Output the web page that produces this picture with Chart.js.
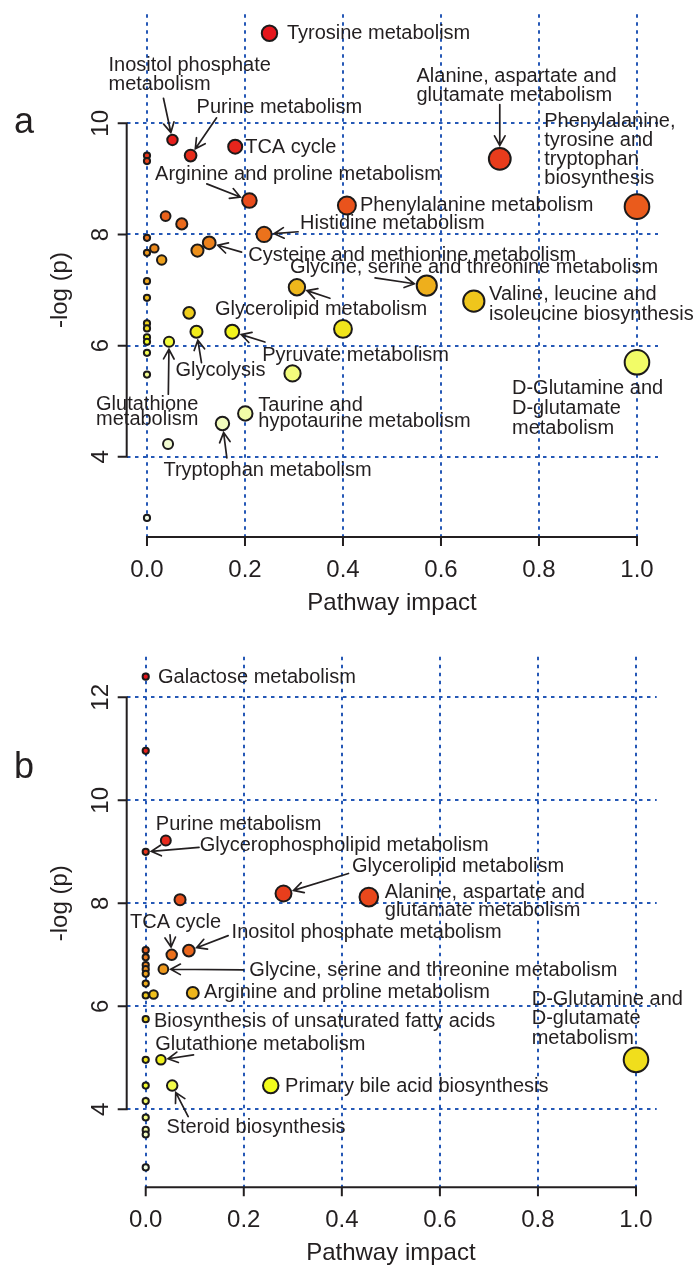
<!DOCTYPE html>
<html><head><meta charset="utf-8">
<script src="https://cdn.jsdelivr.net/npm/chart.js@4.4.1/dist/chart.umd.min.js"></script>
<style>
html,body{margin:0;padding:0;background:#fff;}
#wrap{position:relative;width:700px;height:1269px;overflow:hidden;}
canvas{position:absolute;left:0;}
</style></head><body>
<div id="wrap">
<canvas id="ca" width="700" height="630" style="top:0px"></canvas>
<canvas id="cb" width="700" height="639" style="top:630px"></canvas>
</div>
<script>
// ---------- data ----------
const xTicks = [0, 0.2, 0.4, 0.6, 0.8, 1.0];
const xTickLabels = ['0.0', '0.2', '0.4', '0.6', '0.8', '1.0'];
const yTicksA = [4, 6, 8, 10];
const yTicksB = [4, 6, 8, 10, 12];
const xTitle = 'Pathway impact';
const yTitle = '-log (p)';

const namesA = [
  'Tyrosine metabolism', 'Inositol phosphate\nmetabolism', 'TCA cycle', 'Purine metabolism', '',
  'Alanine, aspartate and\nglutamate metabolism', '', 'Arginine and proline metabolism', 'Phenylalanine metabolism',
  'Phenylalanine,\ntyrosine and\ntryptophan\nbiosynthesis', '', '', 'Histidine metabolism', '',
  'Cysteine and methionine metabolism', '', '', '', '', '',
  'Glycine, serine and threonine metabolism', 'Glycerolipid metabolism', '',
  'Valine, leucine and\nisoleucine biosynthesis', '', '', '', '', 'Glycolysis', 'Pyruvate metabolism',
  '', '', 'Glutathione\nmetabolism', '', 'D-Glutamine and\nD-glutamate\nmetabolism', '', '',
  'Taurine and\nhypotaurine metabolism', 'Tryptophan metabolism', '', ''
];
const impactA = [0.25, 0.052, 0.18, 0.089, 0, 0.72, 0, 0.209, 0.408, 1.0, 0.038, 0.071, 0.239, 0, 0.127, 0.015, 0.103, 0, 0.03, 0,
  0.571, 0.306, 0, 0.667, 0.086, 0, 0, 0.40, 0.101, 0.174, 0, 0, 0.045, 0, 1.0, 0.297, 0, 0.2006, 0.154, 0.043, 0];
const logpA = [11.62, 9.70, 9.58, 9.42, 9.42, 9.36, 9.32, 8.61, 8.52, 8.50, 8.33, 8.19, 8.00, 7.94, 7.85, 7.75, 7.71, 7.67, 7.54, 7.16,
  7.08, 7.05, 6.86, 6.80, 6.59, 6.40, 6.31, 6.30, 6.25, 6.25, 6.15, 6.07, 6.07, 5.87, 5.70, 5.50, 5.48, 4.78, 4.60, 4.23, 2.90];

const namesB = [
  'Galactose metabolism', '', 'Purine metabolism', 'Glycerophospholipid metabolism', 'Glycerolipid metabolism',
  'Alanine, aspartate and\nglutamate metabolism', '', '', 'Inositol phosphate metabolism', 'TCA cycle', '', '', '',
  'Glycine, serine and threonine metabolism', '', '', 'Arginine and proline metabolism', '', '',
  'Biosynthesis of unsaturated fatty acids', 'D-Glutamine and\nD-glutamate\nmetabolism', '', 'Glutathione metabolism',
  'Primary bile acid biosynthesis', '', 'Steroid biosynthesis', '', '', '', '', ''
];
const impactB = [0, 0, 0.041, 0, 0.281, 0.455, 0.070, 0, 0.088, 0.053, 0, 0, 0, 0.036, 0, 0, 0.096, 0.016, 0, 0, 1.0, 0, 0.031,
  0.255, 0, 0.054, 0, 0, 0, 0, 0];
const logpB = [12.40, 10.96, 9.22, 9.00, 8.19, 8.12, 8.07, 7.09, 7.08, 7.00, 6.95, 6.80, 6.72, 6.72, 6.63, 6.44, 6.26, 6.23, 6.21,
  5.75, 4.96, 4.96, 4.96, 4.46, 4.46, 4.46, 4.16, 3.84, 3.60, 3.51, 2.87];

// ---------- label layout (pixel offsets from the labelled point) ----------
const layoutA = [
  {i: 0, dx: 17.4, dy: 6},
  {i: 1, dx: -64, dy: -69.3, lh: 19.3, arrow: [-9, -41.7]},
  {i: 3, dx: 6, dy: -42.7, arrow: [26, -37.7]},
  {i: 2, dx: 10, dy: 6.6},
  {i: 7, dx: -94.3, dy: -21, arrow: [-42.6, -16.7]},
  {i: 8, dx: 13, dy: 5},
  {i: 5, dx: -83.3, dy: -77, lh: 19.4, arrow: [0, -54.3]},
  {i: 9, dx: -92.7, dy: -79.4, lh: 19},
  {i: 12, dx: 36, dy: -5.7, arrow: [34, -2.7]},
  {i: 14, dx: 39, dy: 17.7, arrow: [32.4, 9.3]},
  {i: 20, dx: -136.7, dy: -12.7, arrow: [-51.7, -7.7]},
  {i: 21, dx: -82, dy: 27.7, arrow: [33, 11]},
  {i: 23, dx: 15.3, dy: -1, lh: 20},
  {i: 29, dx: 30, dy: 29.3, arrow: [32.7, 10.3]},
  {i: 28, dx: -21, dy: 44.3, arrow: [5, 31]},
  {i: 32, dx: -73, dy: 68.4, lh: 15.3, arrow: [-0.7, 52.4]},
  {i: 37, dx: 13, dy: -2.4, lh: 15.7},
  {i: 38, dx: -59, dy: 52.7, arrow: [4.4, 34.4]},
  {i: 34, dx: -125, dy: 31.7, lh: 20}
];
const layoutB = [
  {i: 0, dx: 12.3, dy: 6.6},
  {i: 2, dx: -10, dy: -10},
  {i: 3, dx: 54, dy: -1, arrow: [53.3, -4.4]},
  {i: 4, dx: 68.4, dy: -21.6, arrow: [65, -20]},
  {i: 5, dx: 16, dy: 1, lh: 18.4},
  {i: 9, dx: -41.7, dy: -26.7, arrow: [-1.7, -20]},
  {i: 8, dx: 42.7, dy: -12.4, arrow: [39.3, -15]},
  {i: 13, dx: 86, dy: 6.7, arrow: [80, 0.7]},
  {i: 16, dx: 11.3, dy: 5.6},
  {i: 19, dx: 8.3, dy: 8},
  {i: 22, dx: -5.7, dy: -10, arrow: [32.6, -5]},
  {i: 23, dx: 14.3, dy: 6},
  {i: 25, dx: -5.6, dy: 47.6, arrow: [16, 31]},
  {i: 20, dx: -104.3, dy: -55, lh: 19.5}
];

// ---------- styling helpers ----------
const INK = '#231f20';
const GRID = '#2558b6';
const FONT = '"Liberation Sans", Arial, Helvetica, sans-serif';

function hsv(h, s, v) {
  const i = Math.floor(h * 6), f = h * 6 - i;
  const p = v * (1 - s), q = v * (1 - f * s), t = v * (1 - (1 - f) * s);
  let r, g, b;
  switch (i % 6) {
    case 0: r = v; g = t; b = p; break;
    case 1: r = q; g = v; b = p; break;
    case 2: r = p; g = v; b = t; break;
    case 3: r = p; g = q; b = v; break;
    case 4: r = t; g = p; b = v; break;
    default: r = v; g = p; b = q;
  }
  return [r * 255, g * 255, b * 255];
}
function printTone(c) {
  const [r, g, b] = c;
  const r2 = 230 + 12 * (g / 255) - (255 - r) * 0.9;
  const g2 = 0.9 * g + 22;
  const b2 = 28 + 0.84 * b;
  return 'rgb(' + Math.round(r2) + ',' + Math.round(g2) + ',' + Math.round(b2) + ')';
}
// R heat.colors(n), assigned by rank of -log(p)
function heatColors(n) {
  const j = Math.floor(n / 4), i = n - j, out = [];
  for (let k = 0; k < i; k++) out.push(hsv(i > 1 ? (k / (i - 1)) / 6 : 0, 1, 1));
  const s0 = 1 - 1 / (2 * j), s1 = 1 / (2 * j);
  for (let k = 0; k < j; k++) out.push(hsv(1 / 6, j > 1 ? s0 + (s1 - s0) * k / (j - 1) : s0, 1));
  return out.map(printTone);
}

function drawText(ctx, s, x, y, size, align, rot) {
  ctx.save();
  ctx.translate(x, y);
  if (rot) ctx.rotate(rot);
  ctx.font = size + 'px ' + FONT;
  ctx.fillStyle = INK;
  ctx.textAlign = align || 'left';
  ctx.textBaseline = 'alphabetic';
  ctx.fillText(s, 0, 0);
  ctx.restore();
}

const decorPlugin = {
  id: 'decor',
  afterDatasetsDraw(chart, args, o) {
    const ctx = chart.ctx, xs = chart.scales.x, ys = chart.scales.y, ca = chart.chartArea;
    const meta = chart.getDatasetMeta(0);
    ctx.save();
    ctx.strokeStyle = INK;
    ctx.lineWidth = 2;
    // x axis
    const xt = xs.ticks.map(t => t.value);
    ctx.beginPath();
    ctx.moveTo(xs.getPixelForValue(xt[0]) - 1, ca.bottom);
    ctx.lineTo(xs.getPixelForValue(xt[xt.length - 1]) + 1, ca.bottom);
    xt.forEach(v => { const p = xs.getPixelForValue(v); ctx.moveTo(p, ca.bottom); ctx.lineTo(p, ca.bottom + 9); });
    // y axis
    const yt = ys.ticks.map(t => t.value);
    ctx.moveTo(ca.left, ys.getPixelForValue(yt[0]) + 1);
    ctx.lineTo(ca.left, ys.getPixelForValue(yt[yt.length - 1]) - 1);
    yt.forEach(v => { const p = ys.getPixelForValue(v); ctx.moveTo(ca.left, p); ctx.lineTo(ca.left - 9, p); });
    ctx.stroke();
    // tick labels
    xt.forEach((v, k) => drawText(ctx, xTickLabels[k], xs.getPixelForValue(v), ca.bottom + 40, 24, 'center'));
    yt.forEach(v => drawText(ctx, String(v), ca.left - 18.5, ys.getPixelForValue(v), 24, 'center', -Math.PI / 2));
    // axis titles
    drawText(ctx, xTitle, (xs.getPixelForValue(xt[0]) + xs.getPixelForValue(xt[xt.length - 1])) / 2, ca.bottom + 73, 24, 'center');
    drawText(ctx, yTitle, 67, (ys.getPixelForValue(yt[0]) + ys.getPixelForValue(yt[yt.length - 1])) / 2, 24, 'center', -Math.PI / 2);
    // panel letter
    drawText(ctx, o.letter, 14, o.letterY, 36, 'left');
    // annotations
    o.layout.forEach(L => {
      const el = meta.data[L.i];
      const px = el.x, py = el.y;
      const lines = o.names[L.i].split('\n');
      lines.forEach((s, k) => drawText(ctx, s, px + L.dx, py + L.dy + k * (L.lh || 19.5), 20, 'left'));
      if (L.arrow) {
        const sx = px + L.arrow[0], sy = py + L.arrow[1];
        const vx = sx - px, vy = sy - py, len = Math.hypot(vx, vy);
        const ux = vx / len, uy = vy / len;
        const rr = el.options.radius + el.options.borderWidth / 2 + 1.5;
        const ex = px + ux * rr, ey = py + uy * rr;
        ctx.strokeStyle = INK;
        ctx.lineWidth = 1.7;
        ctx.lineCap = 'round';
        ctx.beginPath();
        ctx.moveTo(sx, sy);
        ctx.lineTo(ex, ey);
        const a = Math.atan2(uy, ux), hl = 11, ha = 0.5;
        ctx.moveTo(ex + hl * Math.cos(a + ha), ey + hl * Math.sin(a + ha));
        ctx.lineTo(ex, ey);
        ctx.lineTo(ex + hl * Math.cos(a - ha), ey + hl * Math.sin(a - ha));
        ctx.stroke();
      }
    });
    ctx.restore();
  }
};

function makeChart(id, names, impact, logp, yTicks, xr, yr, pad, layout, letter, letterY) {
  const n = impact.length;
  const order = [...Array(n).keys()].sort((a, b) => (logp[b] - logp[a]) || (a - b));
  const rank = new Array(n);
  order.forEach((k, r) => { rank[k] = r; });
  const cols = heatColors(n);
  const radius = ctx => 3.1 + 9.2 * Math.sqrt(ctx.raw ? ctx.raw.x : 0);
  return new Chart(document.getElementById(id), {
    type: 'scatter',
    data: {
      datasets: [{
        data: impact.map((x, k) => ({x: x, y: logp[k]})),
        pointRadius: radius,
        pointHoverRadius: radius,
        pointBackgroundColor: ctx => cols[rank[ctx.dataIndex]],
        pointBorderColor: '#1c1a1a',
        pointBorderWidth: 2,
        pointHoverBorderWidth: 2,
        clip: false
      }]
    },
    options: {
      responsive: false,
      animation: false,
      events: [],
      layout: {padding: pad},
      plugins: {legend: {display: false}, tooltip: {enabled: false}, decor: {names: names, layout: layout, letter: letter, letterY: letterY}},
      scales: {
        x: {
          type: 'linear', min: xr[0], max: xr[1],
          afterBuildTicks: s => { s.ticks = xTicks.map(v => ({value: v})); },
          ticks: {display: false},
          grid: {color: GRID, lineWidth: 2, drawTicks: false},
          border: {display: false, dash: [3.5, 4.5]}
        },
        y: {
          type: 'linear', min: yr[0], max: yr[1],
          afterBuildTicks: s => { s.ticks = yTicks.map(v => ({value: v})); },
          ticks: {display: false},
          grid: {color: GRID, lineWidth: 2, drawTicks: false},
          border: {display: false, dash: [3.5, 4.5]}
        }
      }
    },
    plugins: [decorPlugin]
  });
}

makeChart('ca', namesA, impactA, logpA, yTicksA, [-0.0414, 1.0429], [2.557, 11.961],
  {left: 126.7, right: 42, top: 8, bottom: 93}, layoutA, 'a', 133);
makeChart('cb', namesB, impactB, logpB, yTicksB, [-0.0388, 1.0422], [2.485, 12.788],
  {left: 126.7, right: 43.3, top: 26.7, bottom: 81.7}, layoutB, 'b', 148);
</script>
</body></html>
